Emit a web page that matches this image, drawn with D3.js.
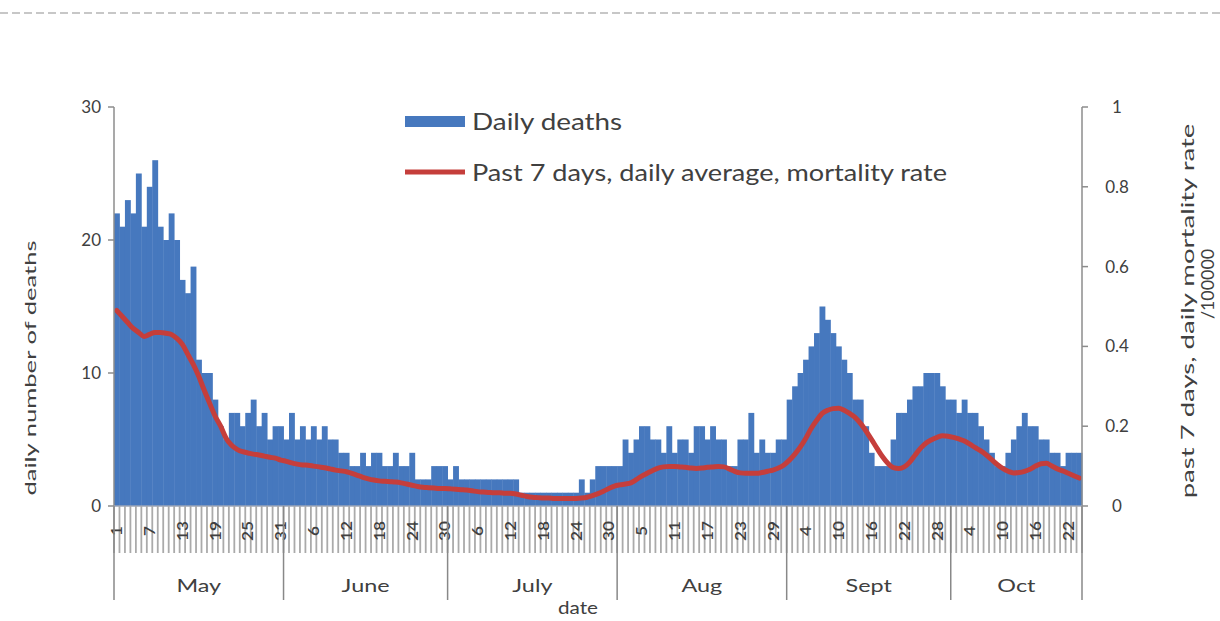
<!DOCTYPE html>
<html><head><meta charset="utf-8">
<script src="https://cdn.jsdelivr.net/npm/d3@7"></script>
<style>
body{margin:0;background:#fff}
svg{display:block}
text{font-family:Lato,"Open Sans",sans-serif;fill:#404040}
</style>
</head><body>
<svg id="c" width="1220" height="621"></svg>
<script>
// ---- data ----
const months = ["May","June","July","Aug","Sept","Oct"];
const monthLengths = [31,30,31,31,30,24];
const dayTickLabels = ["1","7","13","19","25","31","6","12","18","24","30","6","12","18","24","30","5","11","17","23","29","4","10","16","22","28","4","10","16","22"];
const leftTicks = [0,10,20,30];
const rightTicks = [0,0.2,0.4,0.6,0.8,1];

const deathsMay  = [22,21,23,22,25,21,24,26,21,20,22,20,17,16,18,11,10,10,8,6,5,7,7,6,7,8,6,7,5,6,6];
const deathsJun  = [5,7,5,6,5,6,5,6,5,5,4,4,3,3,4,3,4,4,3,3,4,3,3,4,2,2,2,3,3,3];
const deathsJul  = [2,3,2,2,2,2,2,2,2,2,2,2,2,1,1,1,1,1,1,1,1,1,1,1,2,1,2,3,3,3,3];
const deathsAug  = [3,5,4,5,6,6,5,5,4,6,4,5,5,4,6,6,5,6,5,5,3,3,5,5,7,4,5,4,4,5,5];
const deathsSep  = [8,9,10,11,12,13,15,14,13,12,11,10,8,8,6,4,3,3,3,5,7,7,8,9,9,10,10,10,9,8];
const deathsOct  = [8,7,8,7,7,6,5,4,3,3,4,5,6,7,6,6,5,5,4,4,3,4,4,4];

const rateMay = [.49,.475,.46,.445,.435,.425,.43,.435,.435,.433,.43,.42,.405,.38,.355,.325,.29,.257,.225,.2,.17,.152,.142,.136,.133,.13,.128,.125,.122,.12,.115];
const rateJun = [.112,.108,.105,.103,.102,.1,.098,.096,.093,.09,.088,.086,.082,.077,.072,.068,.065,.063,.062,.061,.06,.058,.055,.052,.049,.047,.046,.045,.044,.044];
const rateJul = [.043,.042,.041,.04,.038,.036,.035,.034,.033,.033,.032,.032,.03,.027,.024,.022,.021,.02,.02,.019,.019,.019,.019,.019,.02,.022,.026,.031,.037,.044,.05];
const rateAug = [.053,.055,.058,.066,.075,.082,.089,.095,.098,.099,.099,.098,.097,.095,.094,.095,.097,.098,.099,.098,.093,.087,.083,.082,.082,.082,.084,.087,.09,.095,.103];
const rateSep = [.115,.13,.148,.17,.195,.215,.232,.24,.244,.245,.24,.232,.222,.207,.188,.167,.145,.124,.107,.096,.094,.098,.11,.128,.145,.158,.166,.172,.176,.175];
const rateOct = [.172,.168,.163,.155,.146,.138,.128,.116,.104,.094,.087,.083,.084,.087,.092,.1,.106,.107,.1,.093,.088,.082,.076,.07];

const dailyDeaths = [].concat(deathsMay,deathsJun,deathsJul,deathsAug,deathsSep,deathsOct);
const mortalityRate = [].concat(rateMay,rateJun,rateJul,rateAug,rateSep,rateOct);

// categories
const cats = [];
months.forEach((m,mi)=>{ for(let d=1; d<=monthLengths[mi]; d++) cats.push({month:m, day:d}); });
const idx = d3.range(cats.length);

// ---- layout ----
const svg = d3.select("#c");
const X0 = 114, X1 = 1082, YT = 107, YB = 506;
const BLUE = "#4678be", RED = "#c53e3b";

const x = d3.scaleBand().domain(idx).range([X0, X1]).padding(0);
const bw = x.bandwidth();
const yL = d3.scaleLinear().domain([0,30]).range([YB, YT]);
const yR = d3.scaleLinear().domain([0,1]).range([YB, YT]);

// top dashed line
svg.append("line").attr("x1",0).attr("x2",1220).attr("y1",13).attr("y2",13)
  .attr("stroke","#b5b5b5").attr("stroke-width",1.5).attr("stroke-dasharray","8,4");

// bars
svg.append("g").selectAll("rect").data(idx).join("rect")
  .attr("x", i => x(i)).attr("width", bw + 0.4)
  .attr("y", i => yL(dailyDeaths[i])).attr("height", i => yL(0) - yL(dailyDeaths[i]))
  .attr("fill", BLUE);

// line
const line = d3.line().x(i => x(i) + bw/2).y(i => yR(mortalityRate[i])).curve(d3.curveMonotoneX);
svg.append("path").datum(idx).attr("d", line).attr("fill","none")
  .attr("stroke", RED).attr("stroke-width", 5).attr("stroke-linejoin","round").attr("stroke-linecap","round");

// left axis
const AX = "#8c8c8c";
svg.append("line").attr("x1",X0).attr("x2",X0).attr("y1",YT).attr("y2",YB).attr("stroke",AX).attr("stroke-width",1.5);
const gl = svg.append("g");
leftTicks.forEach(t=>{
  gl.append("line").attr("x1",X0-6).attr("x2",X0).attr("y1",yL(t)).attr("y2",yL(t)).attr("stroke",AX).attr("stroke-width",1.5);
  gl.append("text").attr("x",101).attr("y",yL(t)+6).attr("text-anchor","end").attr("font-size",17).text(t);
});
// right axis
svg.append("line").attr("x1",X1).attr("x2",X1).attr("y1",YT).attr("y2",YB).attr("stroke",AX).attr("stroke-width",1.5);
const gr = svg.append("g");
const fmt = d => d===0 ? "0" : d===1 ? "1" : d3.format(".1f")(d);
rightTicks.forEach(t=>{
  gr.append("line").attr("x1",X1).attr("x2",X1+6).attr("y1",yR(t)).attr("y2",yR(t)).attr("stroke",AX).attr("stroke-width",1.5);
  gr.append("text").attr("x",1117).attr("y",yR(t)+6).attr("text-anchor","middle").attr("font-size",17).text(fmt(t));
});

// bottom category axis
svg.append("line").attr("x1",X0).attr("x2",X1).attr("y1",YB).attr("y2",YB).attr("stroke","#9aa4b8").attr("stroke-width",1.5);
const gb = svg.append("g");
d3.range(cats.length+1).forEach(i=>{
  const xx = X0 + i*bw;
  gb.append("line").attr("x1",xx).attr("x2",xx).attr("y1",YB).attr("y2",553).attr("stroke","#aaaaaa").attr("stroke-width",1.8);
});
// day labels every 6th category
idx.filter(i => i % 6 === 0).forEach((i,k)=>{
  gb.append("text").attr("transform",`translate(${x(i)+bw/2+5.5},531) rotate(-90) scale(1.15,1)`)
    .attr("text-anchor","middle").attr("font-size",15).attr("font-weight",600).attr("fill","#262626").text(dayTickLabels[k]);
});
// month separators & labels
let cum = 0;
const bounds = [0];
monthLengths.forEach(l=>{ cum += l; bounds.push(cum); });
bounds.forEach(b=>{
  const xx = X0 + b*bw;
  gb.append("line").attr("x1",xx).attr("x2",xx).attr("y1",YB).attr("y2",600).attr("stroke","#888").attr("stroke-width",1.5);
});
months.forEach((m,mi)=>{
  const cx = X0 + (bounds[mi]+bounds[mi+1])/2*bw;
  gb.append("text").attr("transform",`translate(${cx},592) scale(1.3,1)`).attr("text-anchor","middle").attr("font-size",18).text(m);
});
svg.append("text").attr("transform","translate(578,614) scale(1.15,1)").attr("text-anchor","middle").attr("font-size",18).text("date");

// axis titles
svg.append("text").attr("transform","translate(36,368) rotate(-90) scale(1.6,1)").attr("text-anchor","middle").attr("font-size",16).text("daily number of deaths");
svg.append("text").attr("transform","translate(1194,311) rotate(-90) scale(1.62,1)").attr("text-anchor","middle").attr("font-size",17).text("past 7 days, daily mortality rate");
svg.append("text").attr("transform","translate(1214,284) rotate(-90) scale(1.05,1)").attr("text-anchor","middle").attr("font-size",17).text("/100000");

// legend
svg.append("rect").attr("x",405).attr("y",116).attr("width",60).attr("height",11).attr("fill",BLUE);
svg.append("text").attr("transform","translate(472,130) scale(1.16,1)").attr("font-size",24).attr("fill","#333").text("Daily deaths");
svg.append("line").attr("x1",405).attr("x2",465).attr("y1",172).attr("y2",172).attr("stroke",RED).attr("stroke-width",5);
svg.append("text").attr("transform","translate(472,181) scale(1.13,1)").attr("font-size",24).attr("fill","#333").text("Past 7 days, daily average, mortality rate");
</script>
</body></html>
